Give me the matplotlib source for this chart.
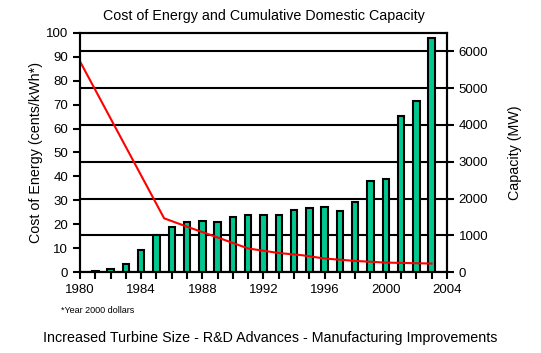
import matplotlib.pyplot as plt
import numpy as np

plt.rcParams['font.family'] = ['Liberation Sans', 'DejaVu Sans']

# cumulative capacity (MW) by year
years = np.arange(1981, 2004)
capacity = [30, 80, 210, 600, 1020, 1215, 1360, 1395, 1375, 1510, 1565, 1565,
            1565, 1700, 1755, 1775, 1665, 1895, 2480, 2535, 4250, 4655, 6350]

# cost of energy (cents/kWh, year 2000 dollars)
cost_years = [1980, 1985.5, 1987, 1989, 1991, 1993, 1994.5, 1996, 1998, 2000, 2003]
cost = [88, 22.5, 19, 14.5, 9.9, 8.0, 7.1, 5.7, 4.7, 4.0, 3.6]

fig = plt.figure(figsize=(5.41, 3.53), dpi=100)
ax = fig.add_axes([0.148, 0.229, 0.678, 0.678])
ax2 = ax.twinx()

# bars on capacity axis
ax2.bar(years, capacity, width=0.42, color='#00c890', edgecolor='black',
        linewidth=1.5, zorder=3)
ax2.set_ylim(0, 6500)
ax2.set_yticks(range(0, 7000, 1000))
ax2.yaxis.grid(True, color='black', linewidth=1.5, zorder=0)
ax2.set_ylabel('Capacity (MW)', fontsize=10.3, labelpad=14)

# cost line on left axis, drawn above bars
ax.set_zorder(ax2.get_zorder() + 1)
ax.patch.set_visible(False)
ax.plot(cost_years, cost, color='red', linewidth=1.5)
ax.set_ylim(0, 100)
ax.set_yticks(range(0, 101, 10))
ax.set_xlim(1980, 2004)
ax.set_xticks(range(1980, 2005, 4))
ax.set_xticks(range(1980, 2005), minor=True)
ax.set_ylabel('Cost of Energy (cents/kWh*)', fontsize=10.3, labelpad=2)

for a in (ax, ax2):
    for s in a.spines.values():
        s.set_linewidth(1.5)
    a.tick_params(which='both', width=1.5, length=5, labelsize=9.5, direction='out')

ax.set_title('Cost of Energy and Cumulative Domestic Capacity', fontsize=10.3, pad=9)
fig.text(0.112, 0.113, '*Year 2000 dollars', fontsize=6.5)
fig.text(0.5, 0.03, 'Increased Turbine Size - R&D Advances - Manufacturing Improvements',
         fontsize=10.3, ha='center')

fig.savefig('out.png', dpi=100)
